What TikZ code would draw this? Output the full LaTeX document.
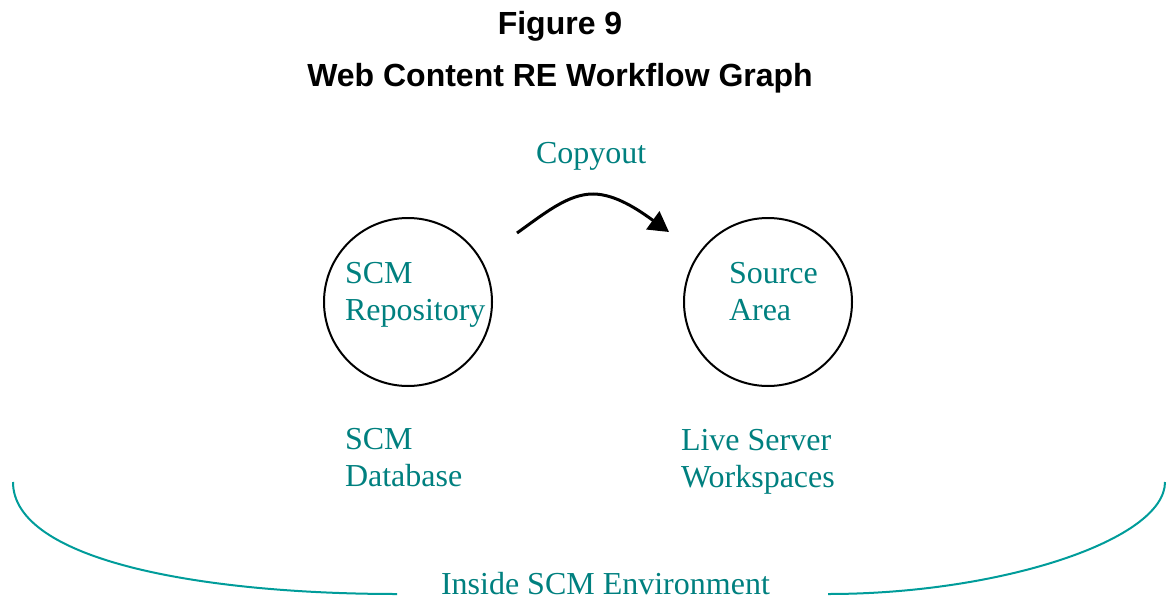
\documentclass[tikz,border=0pt]{standalone}
\usepackage{fontspec}
\setmainfont{Liberation Serif}
\newfontfamily\headfont{Liberation Sans}
\usetikzlibrary{arrows.meta}
\definecolor{tealtext}{HTML}{00807F}
\definecolor{tealline}{HTML}{009C9A}
\tikzset{
  every node/.style={inner sep=0pt, outer sep=0pt},
  heading/.style={font=\headfont\bfseries\fontsize{32}{38}\selectfont, anchor=base},
  % multi-line labels are placed by the baseline of their last line
  label text/.style={font=\fontsize{32}{37}\selectfont, text=tealtext, anchor=base west, align=left},
  store/.style={circle, draw, line width=2pt, minimum size=168pt},
  bracket/.style={draw=tealline, line width=2pt},
}
\begin{document}
\begin{tikzpicture}[x=1pt, y=-1pt]
  \useasboundingbox (0,0) rectangle (1167,602);

  % headings
  \node[heading] (fig) at (560,35) {Figure 9};
  \node[heading] (title) at (560,86) {Web Content RE Workflow Graph};

  % stores
  \node[store] (repo) at (408,302) {};
  \node[store] (src) at (768,302) {};

  \node[label text] (repotxt) at (345,320) {SCM\\Repository};
  \node[label text] (srctxt) at (729,320) {Source\\Area};
  \node[label text] (dbtxt) at (345,486) {SCM\\Database};
  \node[label text] (livetxt) at (681,487) {Live Server\\Workspaces};

  % copyout transition
  \node[label text] (copy) at (536,163) {Copyout};
  \coordinate (cfrom) at (517,233);
  \coordinate (ctop) at (593,194);
  \coordinate (cto) at (669,232);
  \draw[line width=3pt, -{Triangle[length=20pt,width=22pt]}]
    (cfrom) .. controls (545,213) and (568,194) .. (ctop)
            .. controls (616,194) and (640,211) .. (cto);

  % environment bracket
  \node[label text] (env) at (441,594) {Inside SCM Environment};
  \coordinate (bl) at (13,482);
  \coordinate (br) at (1165,482);
  \coordinate (ml) at (397,594);
  \coordinate (mr) at (828,594);
  \draw[bracket] (bl) .. controls (13,560) and (200,594) .. (ml);
  \draw[bracket] (mr) .. controls (1000,594) and (1165,540) .. (br);
\end{tikzpicture}
\end{document}
